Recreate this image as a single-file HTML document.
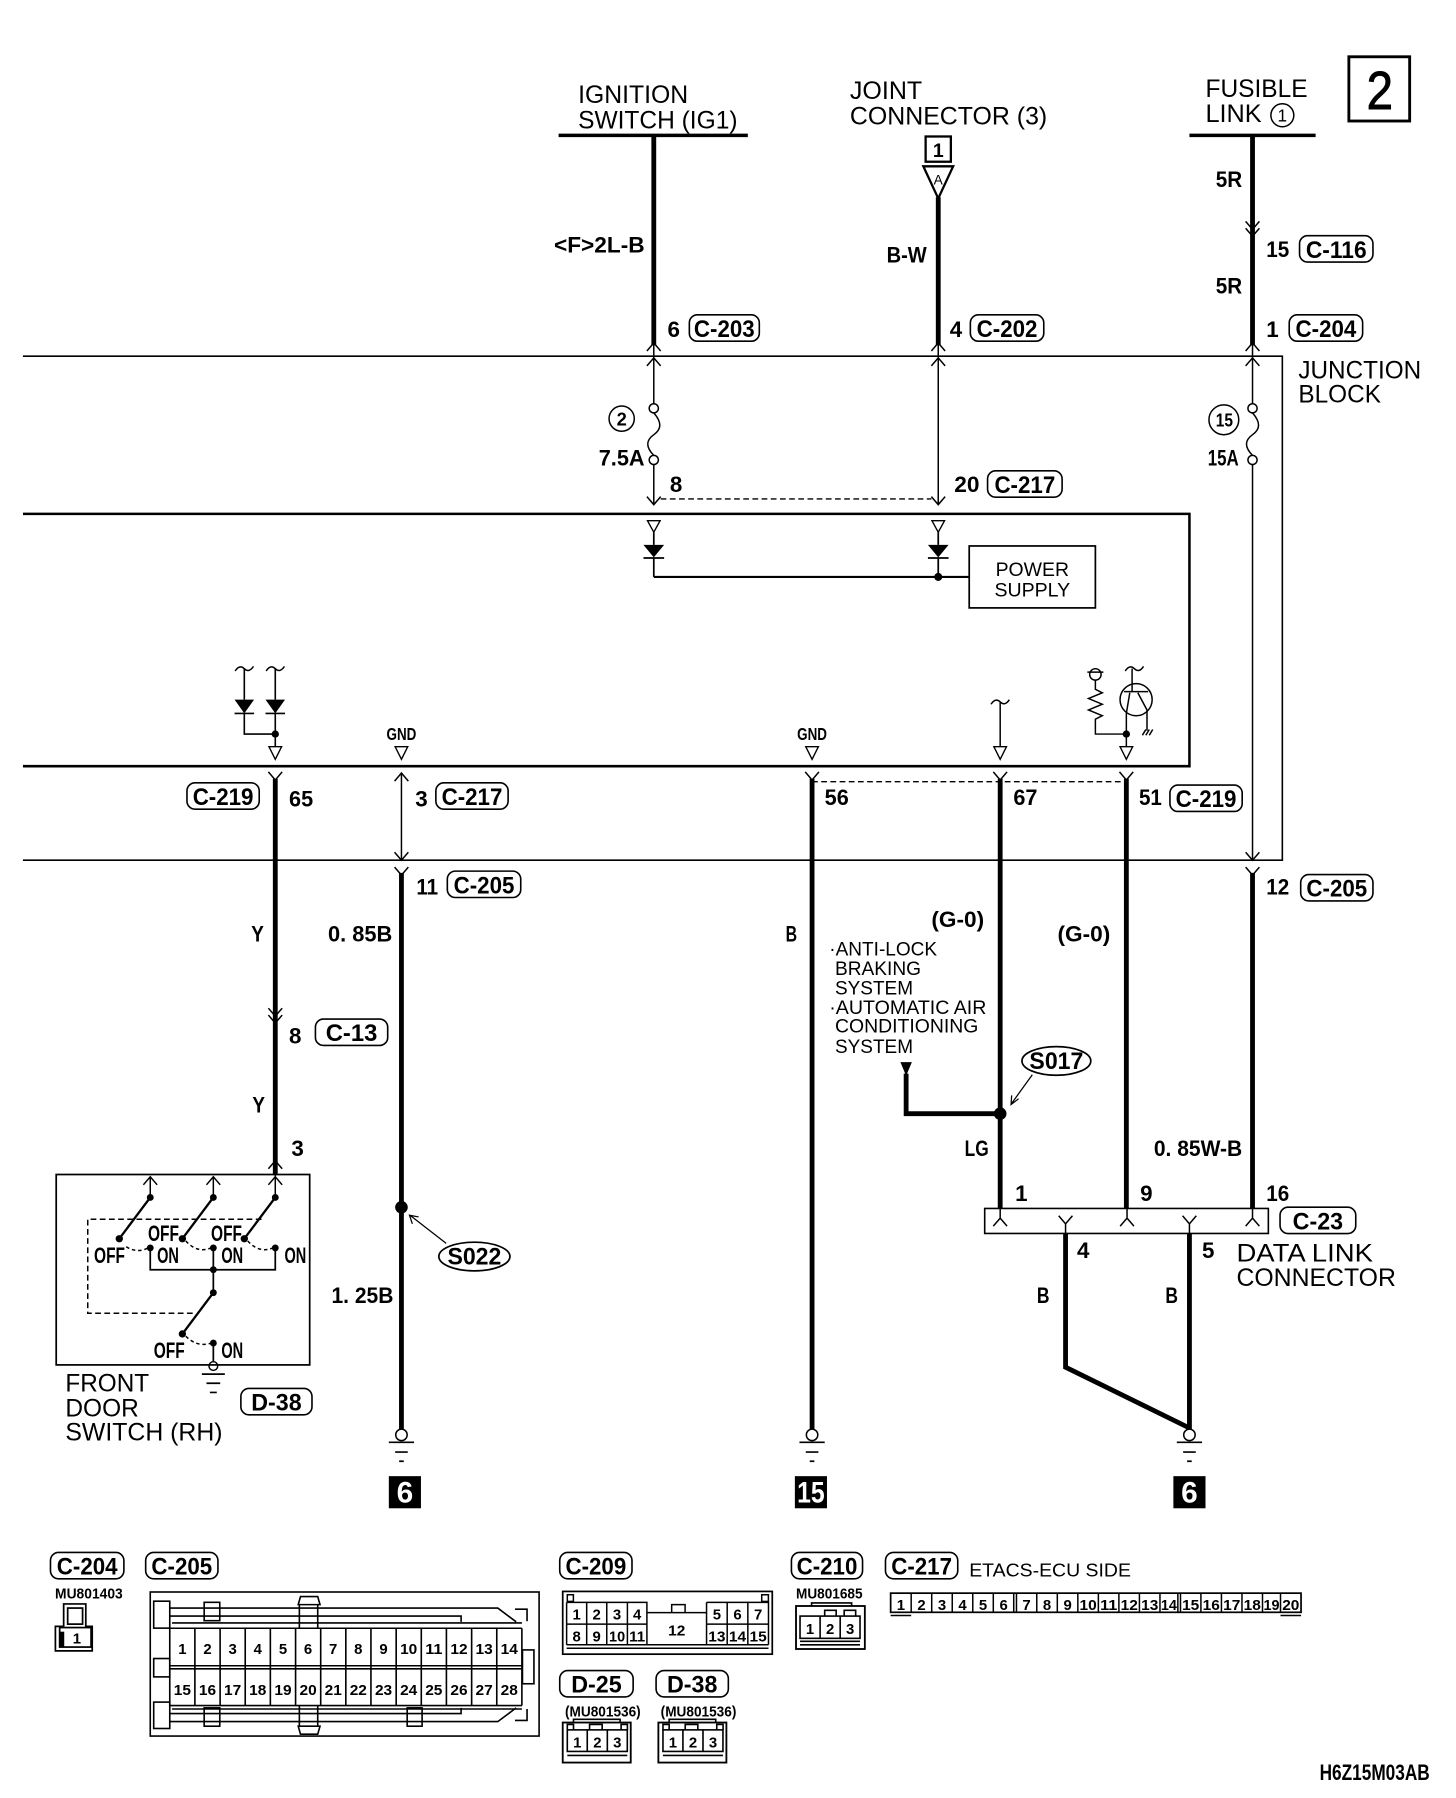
<!DOCTYPE html>
<html><head><meta charset="utf-8">
<style>
html,body{margin:0;padding:0;background:#fff}
svg{display:block}
text{font-family:"Liberation Sans",Arial,sans-serif;fill:#000;stroke:none}
.r{font-size:22px}
.b{font-weight:bold;font-size:19.5px}
.bx{font-weight:bold;font-size:21px}
.t{font-size:17px}
.s{font-weight:bold;font-size:13px}
</style></head><body>
<svg width="1456" height="1798" viewBox="0 0 1269.4 1567.6" preserveAspectRatio="none" xmlns="http://www.w3.org/2000/svg">
<rect x="0" y="0" width="1269.4" height="1567.6" fill="#fff"/>

<g fill="none" stroke="#000" stroke-width="1.3">
<path d="M487 118H652M1037 118H1147" stroke-width="3"/>
<path d="M570 118V301M818 172V301M1092 118V301" stroke-width="4.2"/>
<path d="M1092 761V1054M240 679V1024M350 761V1246M708 679V1246M872 679V1054M982 679V1054M929 1075V1192L1037 1245M1037 1075V1246" stroke-width="4.2"/>
<path d="M790 936V971H872" stroke-width="4.2"/>

<path d="M20 310.5H1118V750H20" stroke-width="1.4"/>
<path d="M20 448H1037V668H20" stroke-width="2.2"/>

<path d="M570 299V352M570 405V440M818 299V440M1092 299V352M1092 405V750M350 674V750"/>
<circle cx="570" cy="356" r="4"/><circle cx="570" cy="401" r="4"/>
<path d="M570 360C577 368 577 374 570 379S563 390 570 397"/>
<circle cx="1092" cy="356" r="4"/><circle cx="1092" cy="401" r="4"/>
<path d="M1092 360C1099 368 1099 374 1092 379S1085 390 1092 397"/>
<circle cx="542" cy="365" r="11"/>
<circle cx="1067" cy="366" r="13"/>
<circle cx="1118" cy="100.5" r="10"/>

<path d="M564 306L570 299L576 306M564 319L570 312L576 319M812 306L818 299L824 306M812 319L818 312L824 319M1086 306L1092 299L1098 306M1086 319L1092 312L1098 319"/>
<path d="M564 433L570 440L576 433M812 433L818 440L824 433"/>
<path d="M1086 193L1092 200L1098 193M1086 199L1092 206L1098 199"/>
<path d="M1086 743L1092 750L1098 743M1086 756L1092 763L1098 756"/>
<path d="M344 681L350 674L356 681M344 743L350 750L356 743M344 756L350 763L356 756"/>
<path d="M234 673L240 680L246 673M702 673L708 680L714 673M866 673L872 680L878 673M976 673L982 680L988 673"/>
<path d="M234 879L240 886L246 879M234 885L240 892L246 885"/>
<path d="M234 1019L240 1012L246 1019"/>

<path d="M576 435H812M708 681.5H982" stroke-dasharray="5 3" stroke-width="1.2"/>

<rect x="807" y="119" width="22" height="22" stroke-width="2"/>
<path d="M805 145H831L818 173Z" stroke-width="2"/>
<rect x="1176" y="49.5" width="53" height="56" stroke-width="2.5"/>

<path d="M564.5 454H575.5L570 464ZM812.5 454H823.5L818 464Z" stroke-width="1.2"/>
<path d="M570 464V475M818 464V475M561 486.5H579M809 486.5H827M570 486V503M818 486V503" stroke-width="1.5"/>
<path d="M570 503H845" stroke-width="1.8"/>
<rect x="845" y="476" width="110" height="54" stroke-width="1.5"/>

<path d="M205 585Q209 579 213 583T221 581M232 585Q236 579 240 583T248 581"/>
<path d="M213 583V610M240 583V610M204.5 622H221.5M231.5 622H248.5M213 622V640H240M240 622V651" stroke-width="1.4"/>
<path d="M234.5 651H245.5L240 662ZM344.5 651H355.5L350 662ZM702.5 651H713.5L708 662ZM866.5 651H877.5L872 662ZM976.5 651H987.5L982 662Z" stroke-width="1.2"/>
<path d="M864 614Q868 608 872 612T880 610M872 612V651"/>
<circle cx="955" cy="588" r="5"/>
<path d="M948 586H962M955 593V601L961 604L949 609L961 614L949 619L961 624L955 627V640H982V651"/>
<circle cx="990.5" cy="610" r="14"/>
<path d="M981 585Q985 579 989 583T997 581M987 583V603M980 603H1001M985 604L982 622V640M992 604L1000 619V637M996 641L999 636M999 641L1002 636M1002 641L1005 636"/>

<rect x="858.5" y="1053.6" width="247.3" height="21.8" stroke-width="1.4"/>
<path d="M872 1054V1062M982.6 1054V1062M1092 1054V1062M866 1069L872 1062L878 1069M976.6 1069L982.6 1062L988.6 1069M1086 1069L1092 1062L1098 1069M923 1060L929 1067L935 1060M929 1067V1075M1031 1060L1037 1067L1043 1060M1037 1067V1075"/>

<ellipse cx="921" cy="925" rx="30" ry="12.5" stroke-width="1.5"/>
<path d="M900 937L882 962M882 955L881.5 963L888 958" stroke-width="1.1"/>
<ellipse cx="413.6" cy="1095.5" rx="31" ry="12.5" stroke-width="1.5"/>
<path d="M389 1084L358 1060M359.5 1067L357 1059.5L365 1061" stroke-width="1.1"/>

<circle cx="350" cy="1251" r="5"/><circle cx="708" cy="1251" r="5"/><circle cx="1037" cy="1251" r="5"/>
<path d="M339 1257.5H361M344.5 1266H355.5M348 1274H352M697 1257.5H719M702.5 1266H713.5M706 1274H710M1026 1257.5H1048M1031.5 1266H1042.5M1035 1274H1039" stroke-width="1.5"/>

<rect x="49" y="1024" width="221" height="166" stroke-width="1.5"/>
<path d="M125 1033L131 1026L137 1033M180 1033L186 1026L192 1033M234 1033L240 1026L246 1033"/>
<path d="M240 1024V1044M131 1026V1044M186 1026V1044"/>
<path d="M131 1044L104 1080M186 1044L159 1080M240 1044L213 1080M186 1127L159 1163" stroke-width="2"/>
<path d="M131 1088V1107H240V1088M186 1088V1127M186 1171V1187" stroke-width="1.5"/>
<path d="M228 1063H76.5V1145H168" stroke-dasharray="5 3"/>
<path d="M110 1087Q120 1093 129 1088M162 1082Q172 1093 184 1088M216 1082Q226 1093 238 1088M162 1165Q172 1175 184 1171" stroke-dasharray="3 2.5"/>
<circle cx="186" cy="1191" r="3.8"/>
<path d="M176 1198H196M180 1206H192M183 1214H189" stroke-width="1.5"/>
</g>

<g fill="#000">
<circle cx="818" cy="503" r="3.5"/>
<circle cx="240" cy="640" r="3.2"/>
<circle cx="982" cy="640" r="3.2"/>
<circle cx="872" cy="971" r="5.5"/>
<circle cx="350" cy="1052.6" r="5.5"/>
<path d="M561 475H579L570 486ZM809 475H827L818 486ZM204.5 610H221.5L213 622ZM231.5 610H248.5L240 622Z"/>
<path d="M785 926H795L790 938Z"/>
<circle cx="131" cy="1044" r="3"/><circle cx="186" cy="1044" r="3"/><circle cx="240" cy="1044" r="3"/>
<circle cx="104" cy="1080" r="3.2"/><circle cx="159" cy="1080" r="3.2"/><circle cx="213" cy="1080" r="3.2"/>
<circle cx="131" cy="1088" r="3"/><circle cx="186" cy="1088" r="3"/><circle cx="240" cy="1088" r="3"/>
<circle cx="186" cy="1107" r="3"/><circle cx="186" cy="1127" r="3"/><circle cx="159" cy="1163" r="3.2"/><circle cx="186" cy="1171" r="3"/>
<rect x="339" y="1287" width="28" height="28"/>
<rect x="693" y="1287" width="28" height="28"/>
<rect x="1023" y="1287" width="28" height="28"/>
</g>

<g fill="none" stroke="#000" stroke-width="1.4">
<rect x="601" y="274.5" width="61" height="23" rx="7"/>
<rect x="846" y="274.5" width="64" height="23" rx="7"/>
<rect x="1133" y="205.5" width="64" height="23" rx="7"/>
<rect x="1124" y="274.5" width="64" height="23" rx="7"/>
<rect x="861" y="410.5" width="65" height="23" rx="7"/>
<rect x="163" y="682.5" width="63" height="23" rx="7"/>
<rect x="380" y="682.5" width="63" height="23" rx="7"/>
<rect x="1020" y="684.5" width="63" height="23" rx="7"/>
<rect x="390" y="759.5" width="64" height="23" rx="7"/>
<rect x="1134" y="762.5" width="63" height="23" rx="7"/>
<rect x="275" y="888.5" width="63" height="23" rx="7"/>
<rect x="210" y="1210.5" width="62" height="23" rx="7"/>
<rect x="1116" y="1052.5" width="66" height="23" rx="7"/>
<rect x="44" y="1353.5" width="64" height="23" rx="7"/>
<rect x="127" y="1353.5" width="63" height="23" rx="7"/>
<rect x="488" y="1353.5" width="63" height="23" rx="7"/>
<rect x="690" y="1353.5" width="62" height="23" rx="7"/>
<rect x="488" y="1456.5" width="64" height="23" rx="7"/>
<rect x="572" y="1456.5" width="63" height="23" rx="7"/>
<rect x="772" y="1353.5" width="63" height="23" rx="7"/>
</g>
<g text-anchor="middle">
<text class="bx" x="631.5" y="293.8" textLength="53" lengthAdjust="spacingAndGlyphs">C-203</text>
<text class="bx" x="878" y="293.8" textLength="53" lengthAdjust="spacingAndGlyphs">C-202</text>
<text class="bx" x="1165" y="224.8" textLength="53" lengthAdjust="spacingAndGlyphs">C-116</text>
<text class="bx" x="1156" y="293.8" textLength="53" lengthAdjust="spacingAndGlyphs">C-204</text>
<text class="bx" x="893.5" y="429.8" textLength="53" lengthAdjust="spacingAndGlyphs">C-217</text>
<text class="bx" x="194.5" y="701.8" textLength="53" lengthAdjust="spacingAndGlyphs">C-219</text>
<text class="bx" x="411.5" y="701.8" textLength="53" lengthAdjust="spacingAndGlyphs">C-217</text>
<text class="bx" x="1051.5" y="703.8" textLength="53" lengthAdjust="spacingAndGlyphs">C-219</text>
<text class="bx" x="422" y="778.8" textLength="53" lengthAdjust="spacingAndGlyphs">C-205</text>
<text class="bx" x="1165.5" y="781.8" textLength="53" lengthAdjust="spacingAndGlyphs">C-205</text>
<text class="bx" x="306.5" y="907.8" textLength="45" lengthAdjust="spacingAndGlyphs">C-13</text>
<text class="bx" x="241" y="1229.8" textLength="44" lengthAdjust="spacingAndGlyphs">D-38</text>
<text class="bx" x="1149" y="1071.8" textLength="44" lengthAdjust="spacingAndGlyphs">C-23</text>
<text class="bx" x="76" y="1372.8" textLength="53" lengthAdjust="spacingAndGlyphs">C-204</text>
<text class="bx" x="158.5" y="1372.8" textLength="53" lengthAdjust="spacingAndGlyphs">C-205</text>
<text class="bx" x="519.5" y="1372.8" textLength="53" lengthAdjust="spacingAndGlyphs">C-209</text>
<text class="bx" x="721" y="1372.8" textLength="53" lengthAdjust="spacingAndGlyphs">C-210</text>
<text class="bx" x="520" y="1475.8" textLength="44" lengthAdjust="spacingAndGlyphs">D-25</text>
<text class="bx" x="603.5" y="1475.8" textLength="44" lengthAdjust="spacingAndGlyphs">D-38</text>
<text class="bx" x="803.5" y="1372.8" textLength="53" lengthAdjust="spacingAndGlyphs">C-217</text>
</g>

<text class="r" x="504" y="90" textLength="96" lengthAdjust="spacingAndGlyphs">IGNITION</text>
<text class="r" x="504" y="112" textLength="139" lengthAdjust="spacingAndGlyphs">SWITCH (IG1)</text>
<text class="r" x="741" y="86.5" textLength="63" lengthAdjust="spacingAndGlyphs">JOINT</text>
<text class="r" x="741" y="108.5" textLength="172" lengthAdjust="spacingAndGlyphs">CONNECTOR (3)</text>
<text class="r" x="1051" y="84.5" textLength="89" lengthAdjust="spacingAndGlyphs">FUSIBLE</text>
<text class="r" x="1051" y="106.5" textLength="49" lengthAdjust="spacingAndGlyphs">LINK</text>
<text x="1118" y="106" font-size="15" text-anchor="middle">1</text>
<text x="1203" y="95" font-size="47" text-anchor="middle" textLength="23" lengthAdjust="spacingAndGlyphs" style="stroke:#000;stroke-width:0.8">2</text>
<text class="r" x="1132" y="330" textLength="107" lengthAdjust="spacingAndGlyphs">JUNCTION</text>
<text class="r" x="1132" y="351" textLength="72" lengthAdjust="spacingAndGlyphs">BLOCK</text>
<text x="900" y="502" font-size="17" text-anchor="middle" textLength="64" lengthAdjust="spacingAndGlyphs">POWER</text>
<text x="900" y="520" font-size="17" text-anchor="middle" textLength="66" lengthAdjust="spacingAndGlyphs">SUPPLY</text>
<text x="818" y="161" font-size="12" text-anchor="middle">A</text>
<text x="818" y="137" font-size="17" font-weight="bold" text-anchor="middle">1</text>

<text class="b" x="483" y="220" textLength="79" lengthAdjust="spacingAndGlyphs">&lt;F&gt;2L-B</text>
<text class="b" x="773" y="229" textLength="35" lengthAdjust="spacingAndGlyphs">B-W</text>
<text class="b" x="1060" y="163" textLength="23" lengthAdjust="spacingAndGlyphs">5R</text>
<text class="b" x="1060" y="256" textLength="23" lengthAdjust="spacingAndGlyphs">5R</text>
<text class="b" x="582" y="294">6</text>
<text class="b" x="828" y="294">4</text>
<text class="b" x="1104" y="224" textLength="20" lengthAdjust="spacingAndGlyphs">15</text>
<text class="b" x="1104" y="294">1</text>
<text x="542" y="371" font-size="16" font-weight="bold" text-anchor="middle">2</text>
<text x="1067.5" y="372" font-size="16" font-weight="bold" text-anchor="middle" textLength="15" lengthAdjust="spacingAndGlyphs">15</text>
<text class="b" x="522" y="406" textLength="40" lengthAdjust="spacingAndGlyphs">7.5A</text>
<text class="b" x="1053" y="406" textLength="27" lengthAdjust="spacingAndGlyphs">15A</text>
<text class="b" x="584" y="429">8</text>
<text class="b" x="832" y="429" textLength="22" lengthAdjust="spacingAndGlyphs">20</text>
<text x="350" y="645" font-size="15" font-weight="bold" text-anchor="middle" textLength="26" lengthAdjust="spacingAndGlyphs">GND</text>
<text x="708" y="645" font-size="15" font-weight="bold" text-anchor="middle" textLength="26" lengthAdjust="spacingAndGlyphs">GND</text>
<text class="b" x="252" y="703" textLength="21" lengthAdjust="spacingAndGlyphs">65</text>
<text class="b" x="362" y="703">3</text>
<text class="b" x="719" y="702" textLength="21" lengthAdjust="spacingAndGlyphs">56</text>
<text class="b" x="883.5" y="702" textLength="21" lengthAdjust="spacingAndGlyphs">67</text>
<text class="b" x="993" y="702" textLength="20" lengthAdjust="spacingAndGlyphs">51</text>
<text class="b" x="363" y="780" textLength="19" lengthAdjust="spacingAndGlyphs">11</text>
<text class="b" x="1104" y="780" textLength="20" lengthAdjust="spacingAndGlyphs">12</text>
<text class="b" x="219" y="821" textLength="11" lengthAdjust="spacingAndGlyphs">Y</text>
<text class="b" x="286" y="821" textLength="56" lengthAdjust="spacingAndGlyphs">0. 85B</text>
<text class="b" x="685" y="821" textLength="10" lengthAdjust="spacingAndGlyphs">B</text>
<text class="b" x="812" y="808" textLength="46" lengthAdjust="spacingAndGlyphs">(G-0)</text>
<text class="b" x="922" y="821" textLength="46" lengthAdjust="spacingAndGlyphs">(G-0)</text>
<text class="b" x="252" y="910">8</text>
<text class="b" x="220" y="970" textLength="11" lengthAdjust="spacingAndGlyphs">Y</text>
<text class="b" x="254" y="1008">3</text>
<text class="b" x="289" y="1136" textLength="54" lengthAdjust="spacingAndGlyphs">1. 25B</text>
<text class="bx" x="413.6" y="1102.5" text-anchor="middle" textLength="47" lengthAdjust="spacingAndGlyphs">S022</text>
<text class="bx" x="921" y="932" text-anchor="middle" textLength="47" lengthAdjust="spacingAndGlyphs">S017</text>
<text class="b" x="841" y="1008" textLength="21" lengthAdjust="spacingAndGlyphs">LG</text>
<text class="b" x="1006" y="1008" textLength="77" lengthAdjust="spacingAndGlyphs">0. 85W-B</text>
<text class="b" x="885" y="1047">1</text>
<text class="b" x="994" y="1047">9</text>
<text class="b" x="1104" y="1047" textLength="20" lengthAdjust="spacingAndGlyphs">16</text>
<text class="b" x="939" y="1097">4</text>
<text class="b" x="1048" y="1097">5</text>
<text class="b" x="904" y="1136" textLength="11" lengthAdjust="spacingAndGlyphs">B</text>
<text class="b" x="1016" y="1136" textLength="11" lengthAdjust="spacingAndGlyphs">B</text>

<text class="t" x="723" y="833" textLength="94" lengthAdjust="spacingAndGlyphs">·ANTI-LOCK</text>
<text class="t" x="728" y="850" textLength="75" lengthAdjust="spacingAndGlyphs">BRAKING</text>
<text class="t" x="728" y="867" textLength="68" lengthAdjust="spacingAndGlyphs">SYSTEM</text>
<text class="t" x="723" y="884" textLength="137" lengthAdjust="spacingAndGlyphs">·AUTOMATIC AIR</text>
<text class="t" x="728" y="900" textLength="125" lengthAdjust="spacingAndGlyphs">CONDITIONING</text>
<text class="t" x="728" y="918" textLength="68" lengthAdjust="spacingAndGlyphs">SYSTEM</text>

<text x="1078" y="1100" font-size="22" textLength="119" lengthAdjust="spacingAndGlyphs">DATA LINK</text>
<text x="1078" y="1121" font-size="22" textLength="139" lengthAdjust="spacingAndGlyphs">CONNECTOR</text>

<text class="b" x="82" y="1101" textLength="27" lengthAdjust="spacingAndGlyphs">OFF</text>
<text class="b" x="129" y="1082" textLength="27" lengthAdjust="spacingAndGlyphs">OFF</text>
<text class="b" x="184" y="1082" textLength="27" lengthAdjust="spacingAndGlyphs">OFF</text>
<text class="b" x="137" y="1101" textLength="19" lengthAdjust="spacingAndGlyphs">ON</text>
<text class="b" x="193" y="1101" textLength="19" lengthAdjust="spacingAndGlyphs">ON</text>
<text class="b" x="248" y="1101" textLength="19" lengthAdjust="spacingAndGlyphs">ON</text>
<text class="b" x="134" y="1184" textLength="27" lengthAdjust="spacingAndGlyphs">OFF</text>
<text class="b" x="193" y="1184" textLength="19" lengthAdjust="spacingAndGlyphs">ON</text>
<text class="r" x="57" y="1213" textLength="73" lengthAdjust="spacingAndGlyphs">FRONT</text>
<text class="r" x="57" y="1235" textLength="64" lengthAdjust="spacingAndGlyphs">DOOR</text>
<text class="r" x="57" y="1256" textLength="137" lengthAdjust="spacingAndGlyphs">SWITCH (RH)</text>

<text x="353" y="1310" font-size="26" font-weight="bold" text-anchor="middle" style="fill:#fff">6</text>
<text x="707" y="1310" font-size="26" font-weight="bold" text-anchor="middle" textLength="24" lengthAdjust="spacingAndGlyphs" style="fill:#fff">15</text>
<text x="1037" y="1310" font-size="26" font-weight="bold" text-anchor="middle" style="fill:#fff">6</text>

<text class="s" x="48" y="1393.5" font-size="12" textLength="59" lengthAdjust="spacingAndGlyphs">MU801403</text>
<g fill="none" stroke="#000" stroke-width="1.5">
<path d="M55.5 1418V1398.4H74.8V1418H80.4V1439.3H48.3V1418Z"/>
<rect x="59" y="1402" width="13" height="14"/>
<rect x="52" y="1419" width="27.4" height="17"/>
</g>
<rect x="52" y="1422.6" width="4" height="13.4" fill="#000"/>
<text class="s" x="67" y="1433" text-anchor="middle">1</text>

<g fill="none" stroke="#000" stroke-width="1.4">
<rect x="131" y="1388" width="339" height="125.6"/>
<rect x="134" y="1396" width="14" height="23.5"/>
<rect x="134" y="1446" width="14" height="16"/>
<rect x="134" y="1484" width="14" height="23"/>
<rect x="178" y="1397" width="13.6" height="16"/>
<rect x="178" y="1489" width="13.6" height="16"/>
<rect x="355" y="1489" width="13" height="16"/>
<path d="M148 1402H434L450 1414M148 1409H402V1414M150 1415H455"/>
<path d="M148 1501H434L450 1489M148 1494H402V1489M150 1490H455"/>
<path d="M260 1399L262 1392H277L279 1399ZM261 1399V1420M277 1399V1420"/>
<path d="M260 1505L262 1512H277L279 1505ZM261 1487V1505M277 1487V1505"/>
<path d="M449 1403H459.5V1413.5M449 1500H459.5V1490"/>
<rect x="455.5" y="1438.5" width="10" height="29.5"/>
<path d="M148 1419.6H455M148 1452.3H455M148 1455H455M148 1487H455"/>
<path d="M148 1419.6V1487M169.9 1419.6V1487M191.9 1419.6V1487M213.8 1419.6V1487M235.7 1419.6V1487M257.7 1419.6V1487M279.6 1419.6V1487M301.5 1419.6V1487M323.4 1419.6V1487M345.4 1419.6V1487M367.3 1419.6V1487M389.2 1419.6V1487M411.2 1419.6V1487M433.1 1419.6V1487M455 1419.6V1487"/>
</g>
<g text-anchor="middle">
<text class="s" font-size="15" x="159" y="1442">1</text>
<text class="s" font-size="15" x="180.9" y="1442">2</text>
<text class="s" font-size="15" x="202.8" y="1442">3</text>
<text class="s" font-size="15" x="224.7" y="1442">4</text>
<text class="s" font-size="15" x="246.7" y="1442">5</text>
<text class="s" font-size="15" x="268.6" y="1442">6</text>
<text class="s" font-size="15" x="290.5" y="1442">7</text>
<text class="s" font-size="15" x="312.4" y="1442">8</text>
<text class="s" font-size="15" x="334.4" y="1442">9</text>
<text class="s" font-size="15" x="356.3" y="1442" textLength="15" lengthAdjust="spacingAndGlyphs">10</text>
<text class="s" font-size="15" x="378.2" y="1442" textLength="15" lengthAdjust="spacingAndGlyphs">11</text>
<text class="s" font-size="15" x="400.2" y="1442" textLength="15" lengthAdjust="spacingAndGlyphs">12</text>
<text class="s" font-size="15" x="422.1" y="1442" textLength="15" lengthAdjust="spacingAndGlyphs">13</text>
<text class="s" font-size="15" x="444" y="1442" textLength="15" lengthAdjust="spacingAndGlyphs">14</text>
<text class="s" font-size="15" x="159" y="1478" textLength="15" lengthAdjust="spacingAndGlyphs">15</text>
<text class="s" font-size="15" x="180.9" y="1478" textLength="15" lengthAdjust="spacingAndGlyphs">16</text>
<text class="s" font-size="15" x="202.8" y="1478" textLength="15" lengthAdjust="spacingAndGlyphs">17</text>
<text class="s" font-size="15" x="224.7" y="1478" textLength="15" lengthAdjust="spacingAndGlyphs">18</text>
<text class="s" font-size="15" x="246.7" y="1478" textLength="15" lengthAdjust="spacingAndGlyphs">19</text>
<text class="s" font-size="15" x="268.6" y="1478" textLength="15" lengthAdjust="spacingAndGlyphs">20</text>
<text class="s" font-size="15" x="290.5" y="1478" textLength="15" lengthAdjust="spacingAndGlyphs">21</text>
<text class="s" font-size="15" x="312.4" y="1478" textLength="15" lengthAdjust="spacingAndGlyphs">22</text>
<text class="s" font-size="15" x="334.4" y="1478" textLength="15" lengthAdjust="spacingAndGlyphs">23</text>
<text class="s" font-size="15" x="356.3" y="1478" textLength="15" lengthAdjust="spacingAndGlyphs">24</text>
<text class="s" font-size="15" x="378.2" y="1478" textLength="15" lengthAdjust="spacingAndGlyphs">25</text>
<text class="s" font-size="15" x="400.2" y="1478" textLength="15" lengthAdjust="spacingAndGlyphs">26</text>
<text class="s" font-size="15" x="422.1" y="1478" textLength="15" lengthAdjust="spacingAndGlyphs">27</text>
<text class="s" font-size="15" x="444" y="1478" textLength="15" lengthAdjust="spacingAndGlyphs">28</text>
</g>

<g fill="none" stroke="#000" stroke-width="1.3">
<rect x="490.6" y="1387.5" width="182.7" height="54.7" stroke-width="1.5"/>
<rect x="494.6" y="1390.4" width="5.3" height="5.8"/>
<rect x="664.1" y="1390.4" width="5.8" height="5.8"/>
<path d="M494 1397H564V1434M494 1397V1434M511.5 1397V1434M529 1397V1434M547 1397V1434M494 1416H564"/>
<path d="M564 1406H616M585.6 1406V1399H597.3V1406"/>
<path d="M616 1397H670V1434M616 1397V1434M634 1397V1434M652 1397V1434M616 1416H670"/>
<path d="M494 1434H670M494 1437H670"/>
</g>
<g text-anchor="middle">
<text class="s" x="502.7" y="1412">1</text>
<text class="s" x="520.2" y="1412">2</text>
<text class="s" x="538" y="1412">3</text>
<text class="s" x="555.5" y="1412">4</text>
<text class="s" x="625" y="1412">5</text>
<text class="s" x="643" y="1412">6</text>
<text class="s" x="661" y="1412">7</text>
<text class="s" x="502.7" y="1431">8</text>
<text class="s" x="520.2" y="1431">9</text>
<text class="s" x="538" y="1431" textLength="14" lengthAdjust="spacingAndGlyphs">10</text>
<text class="s" x="555.5" y="1431" textLength="14" lengthAdjust="spacingAndGlyphs">11</text>
<text class="s" x="590" y="1426" font-size="15" textLength="15" lengthAdjust="spacingAndGlyphs">12</text>
<text class="s" x="625" y="1431" textLength="15" lengthAdjust="spacingAndGlyphs">13</text>
<text class="s" x="643" y="1431" textLength="15" lengthAdjust="spacingAndGlyphs">14</text>
<text class="s" x="661" y="1431" textLength="15" lengthAdjust="spacingAndGlyphs">15</text>
</g>

<text class="s" x="694" y="1393.5" font-size="12" textLength="58" lengthAdjust="spacingAndGlyphs">MU801685</text>
<g fill="none" stroke="#000" stroke-width="1.4">
<rect x="694" y="1400.2" width="60" height="37.5" stroke-width="1.6"/>
<path d="M707.6 1400V1397.5H742.5V1400"/>
<rect x="697.5" y="1409" width="52.3" height="19.4"/>
<path d="M715 1409V1428.4M732.5 1409V1428.4M719 1409V1404H729V1409M736 1409V1404H746V1409M697.5 1431H749.8M697.5 1434H749.8"/>
</g>
<g text-anchor="middle">
<text class="s" x="706.2" y="1424.5">1</text>
<text class="s" x="723.8" y="1424.5">2</text>
<text class="s" x="741.2" y="1424.5">3</text>
</g>

<g>
<text class="s" x="492.6" y="1496.7" font-size="12" textLength="66" lengthAdjust="spacingAndGlyphs">(MU801536)</text>
<g fill="none" stroke="#000" stroke-width="1.4">
<rect x="490.6" y="1501.8" width="59.3" height="34.9" stroke-width="1.6"/>
<path d="M500 1501.8V1499H540.6V1501.8"/>
<rect x="494.6" y="1508.2" width="52.3" height="18.8"/>
<path d="M512 1508.2V1527M529.5 1508.2V1527M494.6 1508.2V1503.5H500V1508.2M514 1508.2V1503.5H525V1508.2M541.5 1508.2V1503.5H547V1508.2M494.6 1530.5H546.9"/>
</g>
<g text-anchor="middle">
<text class="s" x="503.3" y="1523.5">1</text>
<text class="s" x="520.8" y="1523.5">2</text>
<text class="s" x="538.2" y="1523.5">3</text>
</g>
</g>
<g transform="translate(83.4 0)">
<text class="s" x="492.6" y="1496.7" font-size="12" textLength="66" lengthAdjust="spacingAndGlyphs">(MU801536)</text>
<g fill="none" stroke="#000" stroke-width="1.4">
<rect x="490.6" y="1501.8" width="59.3" height="34.9" stroke-width="1.6"/>
<path d="M500 1501.8V1499H540.6V1501.8"/>
<rect x="494.6" y="1508.2" width="52.3" height="18.8"/>
<path d="M512 1508.2V1527M529.5 1508.2V1527M494.6 1508.2V1503.5H500V1508.2M514 1508.2V1503.5H525V1508.2M541.5 1508.2V1503.5H547V1508.2M494.6 1530.5H546.9"/>
</g>
<g text-anchor="middle">
<text class="s" x="503.3" y="1523.5">1</text>
<text class="s" x="520.8" y="1523.5">2</text>
<text class="s" x="538.2" y="1523.5">3</text>
</g>
</g>

<text x="845" y="1374.5" font-size="16" textLength="141" lengthAdjust="spacingAndGlyphs">ETACS-ECU SIDE</text>
<g fill="none" stroke="#000" stroke-width="1.3">
<rect x="776.5" y="1389" width="357.8" height="16.7" stroke-width="1.5"/>
<path d="M794.4 1389V1405.7M812.3 1389V1405.7M830.2 1389V1405.7M848.1 1389V1405.7M866 1389V1405.7M883.8 1389V1405.7M886.2 1389V1405.7M903.9 1389V1405.7M921.8 1389V1405.7M939.7 1389V1405.7M957.6 1389V1405.7M975.5 1389V1405.7M993.4 1389V1405.7M1011.3 1389V1405.7M1026.9 1389V1405.7M1029.2 1389V1405.7M1047 1389V1405.7M1064.9 1389V1405.7M1082.8 1389V1405.7M1100.7 1389V1405.7M1116.4 1389V1405.7"/>
<path d="M776.5 1408.5H794.4M1116.4 1408.5H1134.3"/>
</g>
<g text-anchor="middle">
<text class="s" x="785.5" y="1403.5">1</text>
<text class="s" x="803.4" y="1403.5">2</text>
<text class="s" x="821.3" y="1403.5">3</text>
<text class="s" x="839.2" y="1403.5">4</text>
<text class="s" x="857" y="1403.5">5</text>
<text class="s" x="875" y="1403.5">6</text>
<text class="s" x="895" y="1403.5">7</text>
<text class="s" x="912.9" y="1403.5">8</text>
<text class="s" x="930.8" y="1403.5">9</text>
<text class="s" x="948.7" y="1403.5" textLength="15" lengthAdjust="spacingAndGlyphs">10</text>
<text class="s" x="966.6" y="1403.5" textLength="15" lengthAdjust="spacingAndGlyphs">11</text>
<text class="s" x="984.5" y="1403.5" textLength="15" lengthAdjust="spacingAndGlyphs">12</text>
<text class="s" x="1002.4" y="1403.5" textLength="15" lengthAdjust="spacingAndGlyphs">13</text>
<text class="s" x="1019.1" y="1403.5" textLength="14" lengthAdjust="spacingAndGlyphs">14</text>
<text class="s" x="1038.1" y="1403.5" textLength="15" lengthAdjust="spacingAndGlyphs">15</text>
<text class="s" x="1056" y="1403.5" textLength="15" lengthAdjust="spacingAndGlyphs">16</text>
<text class="s" x="1073.9" y="1403.5" textLength="15" lengthAdjust="spacingAndGlyphs">17</text>
<text class="s" x="1091.8" y="1403.5" textLength="15" lengthAdjust="spacingAndGlyphs">18</text>
<text class="s" x="1108.6" y="1403.5" textLength="14" lengthAdjust="spacingAndGlyphs">19</text>
<text class="s" x="1125.4" y="1403.5" textLength="15" lengthAdjust="spacingAndGlyphs">20</text>
</g>

<text x="1150.5" y="1552" font-size="19" font-weight="bold" textLength="96" lengthAdjust="spacingAndGlyphs">H6Z15M03AB</text>
</svg>
</body></html>
